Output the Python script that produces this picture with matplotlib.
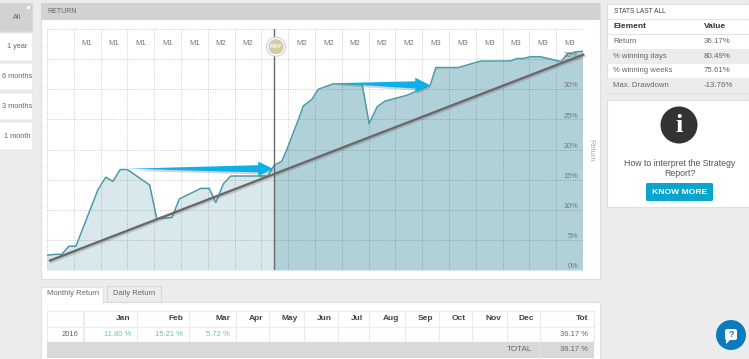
import matplotlib
matplotlib.use('Agg')
import matplotlib.pyplot as plt
import matplotlib.patheffects as pe
from matplotlib.patches import Rectangle, FancyBboxPatch, Circle, Polygon

plt.rcParams['font.family'] = ['Liberation Sans', 'DejaVu Sans']

# return curve, x in grid columns, y in percent
curve_x = [0, 0.30, 0.55, 0.82, 1.08, 1.90, 2.19, 2.46, 2.73, 3.0, 3.83, 4.10, 4.66, 4.94, 5.74, 6.05,
           6.30, 6.58, 6.86, 8.24, 8.48, 8.76, 8.95, 9.45, 9.56, 9.88, 10.12, 10.68, 11.76, 12.02, 12.32,
           12.62, 13.43, 14.30, 14.51, 15.35, 16.17, 17.29, 17.54, 17.77, 18.04, 18.41, 19.18, 19.41, 19.72, 19.98]
curve_y = [2.45, 2.6, 2.6, 3.95, 3.95, 13.3, 15.4, 14.7, 16.67, 16.67, 14.1, 8.5, 8.7, 11.8, 13.55, 13.55,
           11.2, 14.3, 15.6, 15.6, 17.4, 18.05, 20.0, 25.8, 27.2, 28.3, 30.0, 30.9, 30.8, 24.3, 27.1,
           28.05, 29.0, 30.67, 33.6, 33.6, 34.67, 34.7, 35.1, 35.1, 35.4, 35.4, 34.6, 35.8, 36.2, 36.3]
ray_x = 8.48
trend_x = [0.07, 20.05]
trend_y = [1.5, 35.8]
arrow1 = [(2.99, 16.8), (8.44, 16.8)]
arrow2 = [(10.68, 31.0), (14.30, 30.67)]

col_labels = ['', 'M1', 'M1', 'M1', 'M1', 'M1', 'M2', 'M2', '', 'M2', 'M2', 'M2', 'M2', 'M2',
              'M3', 'M3', 'M3', 'M3', 'M3', 'M3']
pct_ticks = [0, 5, 10, 15, 20, 25, 30, 35]

periods = ['All', '1 year', '6 months', '3 months', '1 month']
stats_rows = ['Return', '% winning days', '% winning weeks', 'Max. Drawdown']
stats_vals = ['36.17%', '80.49%', '75.61%', '-13.76%']
months = ['Jan', 'Feb', 'Mar', 'Apr', 'May', 'Jun', 'Jul', 'Aug', 'Sep', 'Oct', 'Nov', 'Dec', 'Tot']
month_vals = ['11.80 %', '15.21 %', '5.72 %', '', '', '', '', '', '', '', '', '', '36.17 %']

GREY = '#666666'
fig = plt.figure(figsize=(7.49, 3.59), dpi=100, facecolor='#ececec')

# page layer in pixels
bg = fig.add_axes([0, 0, 1, 1], zorder=0)
bg.set_xlim(0, 749)
bg.set_ylim(359, 0)
bg.axis('off')


def box(x0, y0, x1, y1, color, edge='none', z=1):
    bg.add_patch(Rectangle((x0, y0), x1 - x0, y1 - y0, fc=color, ec=edge, lw=0.8, zorder=z))


def label(x, y, s, size=5.6, color=GREY, ha='left', **kw):
    bg.text(x, y, s, fontsize=size, color=color, ha=ha, va='center', zorder=5, **kw)


# period buttons
button_y = [(3, 32), (33, 61), (63, 90), (93, 120), (122, 150)]
for i, (name, (y0, y1)) in enumerate(zip(periods, button_y)):
    bg.add_patch(FancyBboxPatch((-3, y0), 36, y1 - y0, boxstyle='round,pad=0,rounding_size=2',
                                fc='#d2d2d2' if i == 0 else 'white', ec='#e2e2e2', lw=0.6, zorder=1))
    label(17, (y0 + y1) / 2, name, size=5.3, ha='center')
box(27, 6, 29.5, 8.5, 'white', z=2)

# chart panel
box(41, 3, 600, 279, 'white', '#dfdfdf')
box(41, 3, 600, 20, '#d2d2d2')
label(47, 11.5, 'RETURN', size=5.0)
bg.text(591, 150, 'Return', fontsize=5.4, color='#aaaaaa', rotation=-90, ha='center', va='center', zorder=5)

# stats panel
box(607, 4, 749, 93, 'white', '#dfdfdf')
label(614, 11.5, 'STATS LAST ALL', size=4.8, color='#444444')
bg.plot([607, 749], [19, 19], color='#e4e4e4', lw=0.8, zorder=2)
label(613, 27, 'Element', size=6.0, color='#333333', fontweight='bold')
label(704, 27, 'Value', size=6.0, color='#333333', fontweight='bold')
bg.plot([607, 749], [34, 34], color='#e4e4e4', lw=0.8, zorder=2)
for i, (name, val) in enumerate(zip(stats_rows, stats_vals)):
    y0 = 34.5 + i * 14.5
    if i % 2:
        box(607, y0, 749, y0 + 14.5, '#ececec', z=2)
    label(613, y0 + 7.3, name, size=5.6)
    label(704, y0 + 7.3, val, size=5.7)

# info panel
box(607, 100, 749, 207, 'white', '#dfdfdf')
bg.add_patch(Circle((679, 125), 18.5, fc='#333333', ec='none', zorder=2))
bg.text(679, 125, 'i', fontsize=19, color='white', family='Liberation Serif', fontweight='bold',
        ha='center', va='center', zorder=3)
label(679.5, 163, 'How to interpret the Strategy', size=6.3, color='#555555', ha='center')
label(679.5, 173, 'Report?', size=6.3, color='#555555', ha='center')
bg.add_patch(FancyBboxPatch((646, 183), 67, 18, boxstyle='round,pad=0,rounding_size=1.5',
                            fc='#0aa5cf', ec='none', zorder=2))
label(679.5, 192, 'KNOW MORE', size=6.1, color='white', ha='center', fontweight='bold')

# tabs and monthly table
box(41, 302, 600, 362, 'white', '#dfdfdf')
box(107, 286, 161, 302, '#ececec', '#d8d8d8')
box(41, 287, 103, 303, 'white', '#e2e2e2', z=2)
box(41.5, 300, 102.5, 304, 'white', z=3)
label(47, 293.5, 'Monthly Return', size=5.5)
label(113, 293.5, 'Daily Return', size=5.5)

cell_edges = [84, 137, 189, 236, 269, 304, 338, 369, 405, 439, 472, 507, 540, 594]
bg.plot([47, 594], [311, 311], color='#ececec', lw=0.8, zorder=2)
for x in [47, 83] + [e - 0.5 for e in cell_edges]:
    bg.plot([x, x], [311, 342], color='#ececec', lw=0.9, zorder=2)
for y in [326.5, 342]:
    bg.plot([47, 594], [y, y], color='#ececec', lw=0.9, zorder=2)
box(47, 342, 594, 358, '#d9d9d9', z=2)
bg.plot([540, 540], [342, 358], color='#e2e2e2', lw=0.8, zorder=3)
label(78.5, 334, '2016', size=5.5, ha='right')
for i, (m, v) in enumerate(zip(months, month_vals)):
    right = cell_edges[i + 1] - 6
    label(right, 319, m, size=6.0, color='#444444', ha='right', fontweight='bold')
    if v:
        label(right, 334, v, size=5.5, color='#5fcb9c' if i < 12 else GREY, ha='right')
label(532, 349.5, 'TOTAL', size=5.8, ha='right')
label(588, 349.5, month_vals[-1], size=5.5, ha='right')

# help bubble
bg.add_patch(Circle((731, 335), 15, fc='#0a7bbd', ec='none', zorder=2))
bg.add_patch(FancyBboxPatch((725, 329), 12, 11, boxstyle='round,pad=0,rounding_size=2', fc='white', ec='none', zorder=3))
bg.add_patch(Polygon([(726, 339), (726, 344), (731, 339)], fc='white', ec='none', zorder=3))
bg.text(731, 334.5, '?', fontsize=6.5, color='#0a7bbd', fontweight='bold', ha='center', va='center', zorder=4)

# return chart
ax = fig.add_axes([47 / 749, (359 - 270) / 359, 536 / 749, 241 / 359], zorder=1)
ax.patch.set_alpha(0)
ax.set_xlim(0, 20)
ax.set_ylim(0, 40)
for s in ax.spines.values():
    s.set_visible(False)
ax.set_xticks(range(21))
ax.set_yticks(range(0, 41, 5))
ax.tick_params(length=0, labelbottom=False, labelleft=False)
ax.grid(True, ls=(0, (1.5, 1.5)), color='black', alpha=0.2, lw=0.6, zorder=2)
ax.set_axisbelow(False)

left_x = [x for x in curve_x if x <= ray_x]
left_y = curve_y[:len(left_x)]
right_x = curve_x[len(left_x) - 1:]
right_y = curve_y[len(left_x) - 1:]
ax.fill_between(left_x, left_y, color='#d8e8ec', lw=0, zorder=1)
ax.fill_between(right_x, right_y, color='#b0d1d7', lw=0, zorder=1)
ax.plot(curve_x, curve_y, color='#4b9aa8', lw=1.1, zorder=3)
ax.axvline(ray_x, color='#666a6c', lw=1.0, zorder=3)

for i, m in enumerate(col_labels):
    ax.text(i + 0.5, 37.6, m, fontsize=5.6, color='#777777', ha='center', va='center', zorder=5)
for p in pct_ticks:
    ax.text(19.82, p + 0.55, f'{p}%', fontsize=5.3, color='#777777', ha='right', va='center', zorder=5)

ax.plot(trend_x, trend_y, color='#6c6769', lw=1.7, zorder=6, clip_on=False, solid_capstyle='butt',
        path_effects=[pe.SimpleLineShadow(offset=(0.8, -1.2), shadow_color='#444444', alpha=0.2), pe.Normal()])


def draw_arrow(start, end):
    (x0, y0), (x1, y1) = start, end
    hx = x1 - 0.56
    ym = y0 + (y1 - y0) * (hx - x0) / (x1 - x0)
    pts = [(x0, y0), (hx, ym + 0.6), (hx, ym + 1.2), (x1, y1), (hx, ym - 1.2), (hx, ym - 0.6)]
    ax.add_patch(Polygon(pts, fc='#0cb1ea', ec='none', zorder=7,
                         path_effects=[pe.SimplePatchShadow(offset=(1, -1.5), shadow_rgbFace='#555555', alpha=0.25), pe.Normal()]))


draw_arrow(*arrow1)
draw_arrow(*arrow2)

# RAY marker
bg2 = fig.add_axes([0, 0, 1, 1], zorder=2)
bg2.set_xlim(0, 749)
bg2.set_ylim(359, 0)
bg2.axis('off')
bg2.add_patch(Circle((276, 46.7), 9.5, fc='white', ec='#cccccc', lw=0.7))
bg2.add_patch(Circle((276, 46.7), 7.6, fc='#d5cca4', ec='none'))
bg2.text(276, 46.7, 'RAY', fontsize=4.4, color='white', fontweight='bold', ha='center', va='center')

fig.savefig('out.png', dpi=100, facecolor=fig.get_facecolor())
